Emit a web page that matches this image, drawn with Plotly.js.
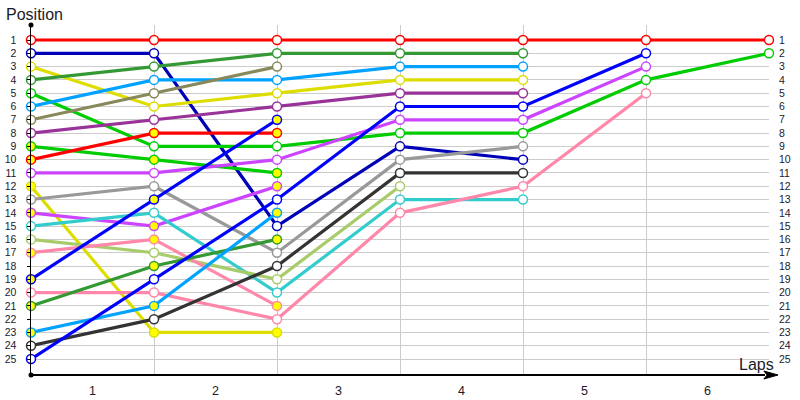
<!DOCTYPE html>
<html>
<head>
<meta charset="utf-8">
<script src="https://cdn.plot.ly/plotly-3.0.1.min.js"></script>
<style>html,body{margin:0;padding:0;background:#fff;}#chart{width:800px;height:400px;}</style>
</head>
<body>
<div id="chart"></div>
<script>
// ---- data ----
const lapLabels = ["1", "2", "3", "4", "5", "6"];
const positions = [1,2,3,4,5,6,7,8,9,10,11,12,13,14,15,16,17,18,19,20,21,22,23,24,25];

const carRed1    = [1, 1, 1, 1, 1, 1, 1];
const carNavy    = [2, 2, 15, 9, 10];
const carYellow1 = [3, 6, 5, 4, 4];
const carForest1 = [4, 3, 2, 2, 2];
const carGreen1  = [5, 9, 9, 8, 8, 4, 2];
const carSky1    = [6, 4, 4, 3, 3];
const carOlive   = [7, 5, 3];
const carPurple  = [8, 7, 6, 5, 5];
const carGreen2  = [9, 10, 11];
const carRed2    = [10, 8, 8];
const carViolet1 = [11, 11, 10, 7, 7, 3];
const carYellow2 = [12, 23, 23];
const carGray    = [13, 12, 17, 10, 9];
const carViolet2 = [14, 15, 12];
const carCyan    = [15, 14, 20, 13, 13];
const carLime    = [16, 17, 19, 12];
const carPink2   = [17, 16, 21];
const carBlue2   = [19, 13, 7];
const carPink1   = [20, 20, 22, 14, 12, 5];
const carForest2 = [21, 18, 16];
const carSky2    = [23, 21, 14];
const carDark    = [24, 22, 18, 11, 11];
const carBlue1   = [25, 19, 13, 6, 6, 2];

// ---- styles (kept apart from data) ----
const series = [
  [carRed1,    '#ff0000', false],
  [carNavy,    '#0000b8', false],
  [carYellow1, '#dddd00', false],
  [carForest1, '#339933', false],
  [carGreen1,  '#00cc00', false],
  [carSky1,    '#00a2ff', false],
  [carOlive,   '#88885a', false],
  [carPurple,  '#993399', false],
  [carGreen2,  '#00cc00', true],
  [carRed2,    '#ff0000', true],
  [carViolet1, '#cc44ff', false],
  [carYellow2, '#dddd00', true],
  [carGray,    '#999999', false],
  [carViolet2, '#cc44ff', true],
  [carCyan,    '#33cccc', false],
  [carLime,    '#a8cc6a', false],
  [carPink2,   '#ff88aa', true],
  [carBlue2,   '#0000ff', true],
  [carPink1,   '#ff88aa', false],
  [carForest2, '#339933', true],
  [carSky2,    '#00a2ff', true],
  [carDark,    '#333333', false],
  [carBlue1,   '#0000ff', false]
];

const lapIndex = n => Array.from({length: n}, (_, i) => i);

const lineTraces = series.map(([ys, col]) => ({
  type: 'scatter', mode: 'lines', x: lapIndex(ys.length), y: ys,
  line: {color: col, width: 3.2}, cliponaxis: false, hoverinfo: 'skip', showlegend: false
}));
const markerTraces = series.map(([ys, col, pit]) => ({
  type: 'scatter', mode: 'markers', x: lapIndex(ys.length), y: ys,
  marker: {symbol: 'circle', size: 9, color: pit ? '#ffff00' : '#ffffff', line: {color: col, width: 1.5}},
  cliponaxis: false, hoverinfo: 'skip', showlegend: false
}));
// invisible companion so the right-hand position axis is drawn
const rightAxisTrace = {
  type: 'scatter', mode: 'markers', x: lapIndex(carRed1.length), y: carRed1, yaxis: 'y2',
  marker: {opacity: 0}, hoverinfo: 'skip', showlegend: false
};

const yRange = [26.2, -0.13];
const tickFont = {family: 'Liberation Sans, Arial, sans-serif', size: 10.5, color: '#1a1a2a'};

const layout = {
  width: 800, height: 400,
  margin: {l: 31, r: 31, t: 25, b: 25},
  paper_bgcolor: '#ffffff', plot_bgcolor: '#ffffff',
  showlegend: false,
  xaxis: {
    range: [0, 6], zeroline: false, showline: false, showgrid: false,
    tickmode: 'array', tickvals: lapLabels.map((_, i) => i + 0.5), ticktext: lapLabels,
    ticks: '', ticklabelstandoff: 6,
    tickfont: {family: 'Liberation Sans, Arial, sans-serif', size: 12.5, color: '#1a1a2a'},
    minor: {tickmode: 'linear', tick0: 0, dtick: 1, showgrid: true, gridcolor: '#cccccc', gridwidth: 1, ticks: ''}
  },
  yaxis: {
    range: yRange, zeroline: false, showgrid: true, gridcolor: '#cccccc', gridwidth: 1,
    showline: true, linecolor: '#000000', linewidth: 1.5,
    tickmode: 'array', tickvals: positions, ticktext: positions.map(String),
    ticks: 'outside', ticklen: 3, tickcolor: '#000000', tickwidth: 1,
    ticklabelstandoff: 8,
    tickfont: tickFont
  },
  yaxis2: {
    range: yRange, overlaying: 'y', side: 'right', zeroline: false, showgrid: false, showline: false,
    tickmode: 'array', tickvals: positions, ticktext: positions.map(String),
    ticks: '', ticklabelstandoff: 9, tickfont: tickFont
  },
  shapes: [
    {type: 'line', xref: 'paper', yref: 'paper', x0: 0, x1: 0.9946, y0: 0, y1: 0, line: {color: '#000000', width: 2}},
    {type: 'path', xref: 'paper', yref: 'paper',
     path: 'M 1.0122,0 L 0.9930,0.0114 L 0.9975,0 L 0.9930,-0.0114 Z',
     fillcolor: '#000000', line: {color: '#000000', width: 1}},
    {type: 'circle', xref: 'paper', yref: 'paper', xsizemode: 'pixel', ysizemode: 'pixel',
     xanchor: 0, yanchor: 1, x0: -2.5, x1: 2.5, y0: -2.5, y1: 2.5, fillcolor: '#000000', line: {width: 0}},
    {type: 'circle', xref: 'paper', yref: 'paper', xsizemode: 'pixel', ysizemode: 'pixel',
     xanchor: 0, yanchor: 0, x0: -2.5, x1: 2.5, y0: -2.5, y1: 2.5, fillcolor: '#000000', line: {width: 0}}
  ],
  annotations: [
    {text: 'Position', xref: 'paper', yref: 'paper', x: -0.036, y: 1.03, xanchor: 'left', yanchor: 'middle',
     showarrow: false, font: {family: 'Liberation Sans, Arial, sans-serif', size: 16, color: '#1a1a2a'}},
    {text: 'Laps', xref: 'paper', yref: 'paper', x: 1.01, y: 0.03, xanchor: 'right', yanchor: 'middle',
     showarrow: false, font: {family: 'Liberation Sans, Arial, sans-serif', size: 16, color: '#1a1a2a'}}
  ]
};

Plotly.newPlot('chart', lineTraces.concat(markerTraces, [rightAxisTrace]), layout, {staticPlot: true, displayModeBar: false});
</script>
</body>
</html>
